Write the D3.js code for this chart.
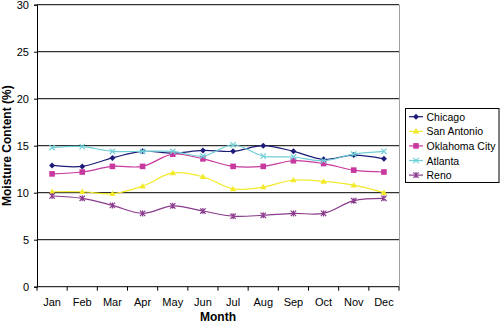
<!DOCTYPE html>
<html><head><meta charset="utf-8">
<script src="https://cdn.jsdelivr.net/npm/d3@7"></script>
<style>body{margin:0;background:#fff}svg{display:block;font-family:Arial,"Liberation Sans",sans-serif}</style>
</head><body>
<script>
const months = ["Jan","Feb","Mar","Apr","May","Jun","Jul","Aug","Sep","Oct","Nov","Dec"];
const seriesNames = ["Chicago","San Antonio","Oklahoma City","Atlanta","Reno"];
const chicago     = [12.9,12.8,13.7,14.4,14.2,14.5,14.4,15.0,14.4,13.55,14.0,13.6];
const sanAntonio  = [10.1,10.1,9.9,10.7,12.1,11.7,10.4,10.6,11.35,11.2,10.8,10.0];
const oklahomaCity= [12.0,12.2,12.8,12.8,14.1,13.6,12.8,12.8,13.4,13.1,12.4,12.2];
const atlanta     = [14.8,14.9,14.4,14.4,14.4,13.9,15.1,13.9,13.8,13.4,14.1,14.4];
const reno        = [9.65,9.4,8.65,7.8,8.6,8.05,7.5,7.6,7.8,7.8,9.15,9.4];
const yTicks = [0,5,10,15,20,25,30];

const seriesData = [chicago, sanAntonio, oklahomaCity, atlanta, reno];
const colors = ["#1c1c78","#f2ea2a","#c8389e","#6fcfd6","#8a3a8c"];
const markers = ["diamond","triangle","square","x","star"];

const W=501,H=326;
const L=37,R=399,T=4.7,B=286.7;
const svg=d3.select("body").append("svg").attr("width",W).attr("height",H);

const x=d3.scaleBand().domain(months).range([L,R]);
const y=d3.scaleLinear().domain([0,30]).range([B,T]);

svg.append("g").selectAll("line").data(yTicks.filter(d=>d>0)).join("line")
  .attr("x1",L).attr("x2",R).attr("y1",d=>y(d)).attr("y2",d=>y(d))
  .attr("stroke","#000").attr("stroke-width",1);
svg.append("line").attr("x1",R+0.5).attr("x2",R+0.5).attr("y1",T).attr("y2",B).attr("stroke","#a0a0a0");

const ya=svg.append("g").attr("transform",`translate(${L},0)`)
  .call(d3.axisLeft(y).tickValues(yTicks).tickSize(3).tickPadding(5).tickFormat(d3.format("d")));
ya.select(".domain").attr("stroke","#000");
ya.selectAll("text").attr("font-size",11).attr("fill","#000").attr("font-family","Arial, Liberation Sans, sans-serif");

const xa=svg.append("g").attr("transform",`translate(0,${B})`)
  .call(d3.axisBottom(x).tickSize(0).tickPadding(12));
xa.select(".domain").attr("stroke","#000").attr("d",`M${L},0H${R}`);
xa.selectAll("text").attr("font-size",11).attr("fill","#000").attr("font-family","Arial, Liberation Sans, sans-serif");
svg.append("g").selectAll("line").data(d3.range(13)).join("line")
  .attr("x1",i=>L+i*x.step()).attr("x2",i=>L+i*x.step()).attr("y1",B).attr("y2",B+4).attr("stroke","#000");

svg.append("text").attr("x",(L+R)/2).attr("y",321).attr("text-anchor","middle")
  .attr("font-size",12).attr("font-weight","bold").text("Month");
svg.append("text").attr("transform",`translate(11,${(T+B)/2}) rotate(-90)`).attr("text-anchor","middle")
  .attr("font-size",12).attr("font-weight","bold").text("Moisture Content (%)");

function drawMarker(g,type,cx,cy,color){
  const s=3;
  if(type==="diamond"){
    g.append("path").attr("d",`M${cx},${cy-s}L${cx+s},${cy}L${cx},${cy+s}L${cx-s},${cy}Z`).attr("fill",color);
  } else if(type==="triangle"){
    g.append("path").attr("d",`M${cx},${cy-3.2}L${cx+3.2},${cy+2.3}L${cx-3.2},${cy+2.3}Z`).attr("fill",color);
  } else if(type==="square"){
    g.append("rect").attr("x",cx-2.8).attr("y",cy-2.8).attr("width",5.6).attr("height",5.6).attr("fill",color);
  } else if(type==="x"){
    g.append("path").attr("d",`M${cx-2.7},${cy-2.7}L${cx+2.7},${cy+2.7}M${cx-2.7},${cy+2.7}L${cx+2.7},${cy-2.7}`).attr("stroke",color).attr("stroke-width",1.2);
  } else {
    g.append("path").attr("d",`M${cx-2.7},${cy-2.7}L${cx+2.7},${cy+2.7}M${cx-2.7},${cy+2.7}L${cx+2.7},${cy-2.7}M${cx},${cy-3}L${cx},${cy+3}`).attr("stroke",color).attr("stroke-width",1.2);
  }
}

const line=d3.line().x((d,i)=>x(months[i])+x.bandwidth()/2).y(d=>y(d)).curve(d3.curveCatmullRom.alpha(0.5));
seriesData.forEach((vals,k)=>{
  const g=svg.append("g");
  g.append("path").attr("d",line(vals)).attr("fill","none").attr("stroke",colors[k]).attr("stroke-width",1.2);
  vals.forEach((v,i)=>drawMarker(g,markers[k],x(months[i])+x.bandwidth()/2,y(v),colors[k]));
});

const lg=svg.append("g");
lg.append("rect").attr("x",405.5).attr("y",108.5).attr("width",93.5).attr("height",74).attr("fill","#fff").attr("stroke","#000");
seriesNames.forEach((n,k)=>{
  const cy=116.7+k*14.6;
  lg.append("line").attr("x1",409).attr("x2",423).attr("y1",cy).attr("y2",cy).attr("stroke",colors[k]).attr("stroke-width",1.2);
  drawMarker(lg,markers[k],416,cy,colors[k]);
  lg.append("text").attr("x",426.5).attr("y",cy+4).attr("font-size",10.5).attr("textLength",n==="Oklahoma City"?69:null).text(n);
});
</script>
</body></html>
